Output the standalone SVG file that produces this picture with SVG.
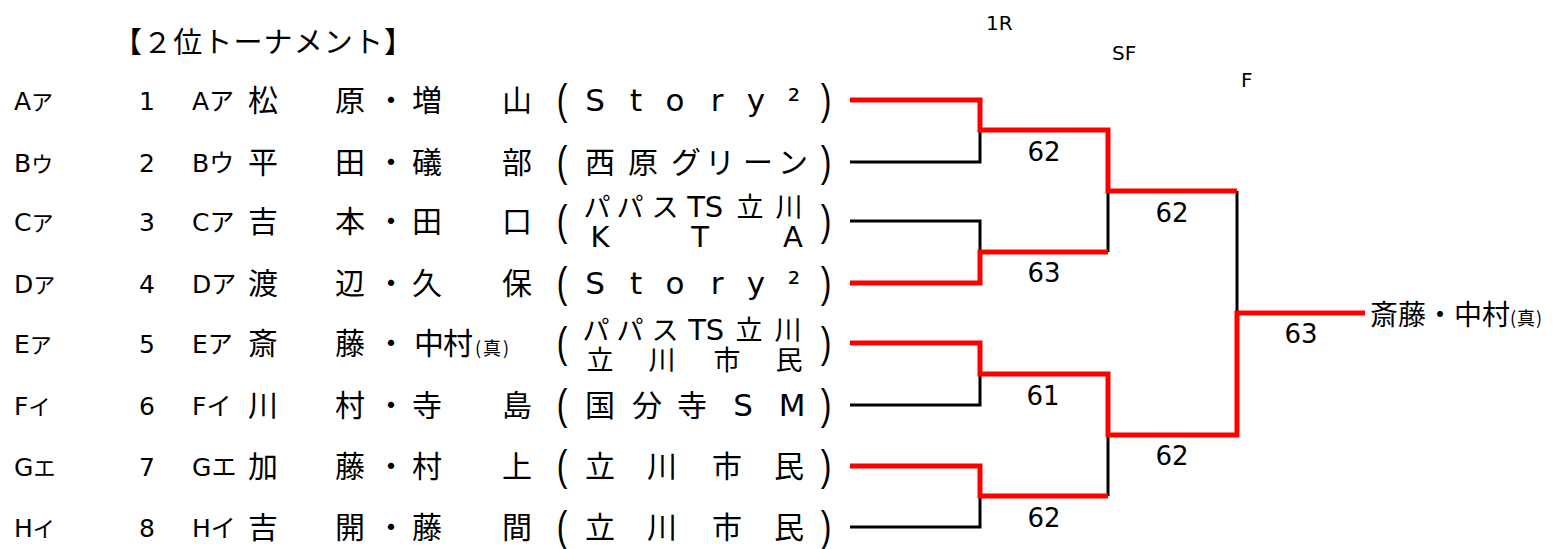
<svg xmlns="http://www.w3.org/2000/svg" width="1555" height="549" viewBox="0 0 1555 549">
<style>
text{fill:#000;font-family:"DejaVu Sans","Noto Sans CJK JP",sans-serif}
.j{font-family:"Noto Sans CJK JP",sans-serif}
.lab{font-size:25px}
.k1{font-size:22px}
.k3{font-size:25px}
.nm{font-size:30px}
.tl{font-size:31px}
.tj{font-size:30px}
.t2l{font-size:29px}
.t2j{font-size:27px}
.par{font-family:"Liberation Sans",sans-serif;font-size:32px}
.sc{font-size:26px}
.rd{font-size:20px}
.blk{fill:none;stroke:#000;stroke-width:3}
.red{fill:none;stroke:#FF0000;stroke-width:5}
</style>
<rect width="1555" height="549" fill="#fff"/>
<text class="j" x="113" y="53" font-size="29" textLength="300">【２位トーナメント】</text>
<g id="rounds">
<text class="rd" x="986" y="30">1R</text>
<text class="rd" x="1112" y="60">SF</text>
<text class="rd" x="1241" y="87">F</text>
</g>
<g id="entry1">
<text class="lab" x="14" y="110">A<tspan class="j k1">ア</tspan></text>
<text class="lab" x="147" y="110" text-anchor="middle">1</text>
<text class="lab" x="192" y="110">A<tspan class="j k3">ア</tspan></text>
<text class="j nm" x="263 350 391 427 517" y="111" text-anchor="middle">松原・増山</text>
<text class="par" transform="translate(0,114) scale(1,1.35)" x="562 826" y="0" text-anchor="middle">()</text>
<text class="tl" x="595 636 675 717 756 794" y="111" text-anchor="middle">Story²</text>
</g>
<g id="entry2">
<text class="lab" x="14" y="172">B<tspan class="j k1">ウ</tspan></text>
<text class="lab" x="147" y="172" text-anchor="middle">2</text>
<text class="lab" x="192" y="172">B<tspan class="j k3">ウ</tspan></text>
<text class="j nm" x="263 350 391 427 517" y="173" text-anchor="middle">平田・礒部</text>
<text class="par" transform="translate(0,176) scale(1,1.35)" x="562 826" y="0" text-anchor="middle">()</text>
<text class="j tj" x="600 643 686 720 758 793" y="173" text-anchor="middle">西原グリーン</text>
</g>
<g id="entry3">
<text class="lab" x="14" y="231">C<tspan class="j k1">ア</tspan></text>
<text class="lab" x="147" y="231" text-anchor="middle">3</text>
<text class="lab" x="192" y="231">C<tspan class="j k3">ア</tspan></text>
<text class="j nm" x="263 350 391 427 517" y="232" text-anchor="middle">吉本・田口</text>
<text class="par" transform="translate(0,235) scale(1,1.35)" x="562 826" y="0" text-anchor="middle">()</text>
<text class="j t2j" x="597 630 665" y="217" text-anchor="middle">パパス</text>
<text class="t2l" x="696 714" y="217" text-anchor="middle">TS</text>
<text class="j t2j" x="750 789" y="217" text-anchor="middle">立川</text>
<text class="t2l" x="600 700 793" y="247" text-anchor="middle">KTA</text>
</g>
<g id="entry4">
<text class="lab" x="14" y="293">D<tspan class="j k1">ア</tspan></text>
<text class="lab" x="147" y="293" text-anchor="middle">4</text>
<text class="lab" x="192" y="293">D<tspan class="j k3">ア</tspan></text>
<text class="j nm" x="263 350 391 427 517" y="294" text-anchor="middle">渡辺・久保</text>
<text class="par" transform="translate(0,297) scale(1,1.35)" x="562 826" y="0" text-anchor="middle">()</text>
<text class="tl" x="595 636 675 717 756 794" y="294" text-anchor="middle">Story²</text>
</g>
<g id="entry5">
<text class="lab" x="14" y="353">E<tspan class="j k1">ア</tspan></text>
<text class="lab" x="147" y="353" text-anchor="middle">5</text>
<text class="lab" x="192" y="353">E<tspan class="j k3">ア</tspan></text>
<text class="j nm" x="263 350 391 429 458" y="354" text-anchor="middle">斎藤・中村</text>
<text class="j" x="475" y="355" font-size="18" letter-spacing="2">(真)</text>
<text class="par" transform="translate(0,357) scale(1,1.35)" x="562 826" y="0" text-anchor="middle">()</text>
<text class="j t2j" x="596 630 665" y="340" text-anchor="middle">パパス</text>
<text class="t2l" x="697 715" y="340" text-anchor="middle">TS</text>
<text class="j t2j" x="749 788" y="340" text-anchor="middle">立川</text>
<text class="j t2j" x="600 662 727 789" y="370" text-anchor="middle">立川市民</text>
</g>
<g id="entry6">
<text class="lab" x="14" y="415">F<tspan class="j k1">イ</tspan></text>
<text class="lab" x="147" y="415" text-anchor="middle">6</text>
<text class="lab" x="192" y="415">F<tspan class="j k3">イ</tspan></text>
<text class="j nm" x="263 350 391 427 517" y="416" text-anchor="middle">川村・寺島</text>
<text class="par" transform="translate(0,419) scale(1,1.35)" x="562 826" y="0" text-anchor="middle">()</text>
<text class="j tj" x="600 647 692" y="416" text-anchor="middle">国分寺</text>
<text class="tl" x="743 792" y="416" text-anchor="middle">SM</text>
</g>
<g id="entry7">
<text class="lab" x="14" y="476">G<tspan class="j k1">エ</tspan></text>
<text class="lab" x="147" y="476" text-anchor="middle">7</text>
<text class="lab" x="192" y="476">G<tspan class="j k3">エ</tspan></text>
<text class="j nm" x="263 350 391 427 517" y="477" text-anchor="middle">加藤・村上</text>
<text class="par" transform="translate(0,480) scale(1,1.35)" x="562 826" y="0" text-anchor="middle">()</text>
<text class="j tj" x="600 662 727 789" y="477" text-anchor="middle">立川市民</text>
</g>
<g id="entry8">
<text class="lab" x="14" y="537">H<tspan class="j k1">イ</tspan></text>
<text class="lab" x="147" y="537" text-anchor="middle">8</text>
<text class="lab" x="192" y="537">H<tspan class="j k3">イ</tspan></text>
<text class="j nm" x="263 350 391 427 517" y="538" text-anchor="middle">吉開・藤間</text>
<text class="par" transform="translate(0,541) scale(1,1.35)" x="562 826" y="0" text-anchor="middle">()</text>
<text class="j tj" x="600 662 727 789" y="538" text-anchor="middle">立川市民</text>
</g>
<g id="connectors">
<path class="blk" d="M850,162 H980 V130"/>
<path class="blk" d="M850,221 H980 V252"/>
<path class="blk" d="M1108,252 V191"/>
<path class="blk" d="M850,405 H980 V374"/>
<path class="blk" d="M850,527 H980 V496"/>
<path class="blk" d="M1108,496 V435"/>
<path class="blk" d="M1237,191 V313"/>
<path class="red" d="M850,100 H980 V130 H1108 V191 H1237"/>
<path class="red" d="M850,283 H980 V252 H1108"/>
<path class="red" d="M850,343 H980 V374 H1108 V435 H1237 V313 H1365"/>
<path class="red" d="M850,466 H980 V496 H1108"/>
</g>
<g id="scores">
<text class="sc" x="1044" y="161" text-anchor="middle">62</text>
<text class="sc" x="1044" y="282" text-anchor="middle">63</text>
<text class="sc" x="1043" y="405" text-anchor="middle">61</text>
<text class="sc" x="1044" y="527" text-anchor="middle">62</text>
<text class="sc" x="1172" y="222" text-anchor="middle">62</text>
<text class="sc" x="1172" y="465" text-anchor="middle">62</text>
<text class="sc" x="1301" y="343" text-anchor="middle">63</text>
</g>
<g id="winner">
<text class="j" x="1370" y="325" font-size="28">斎藤・中村<tspan font-size="18" letter-spacing="1">(真)</tspan></text>
</g>
</svg>
